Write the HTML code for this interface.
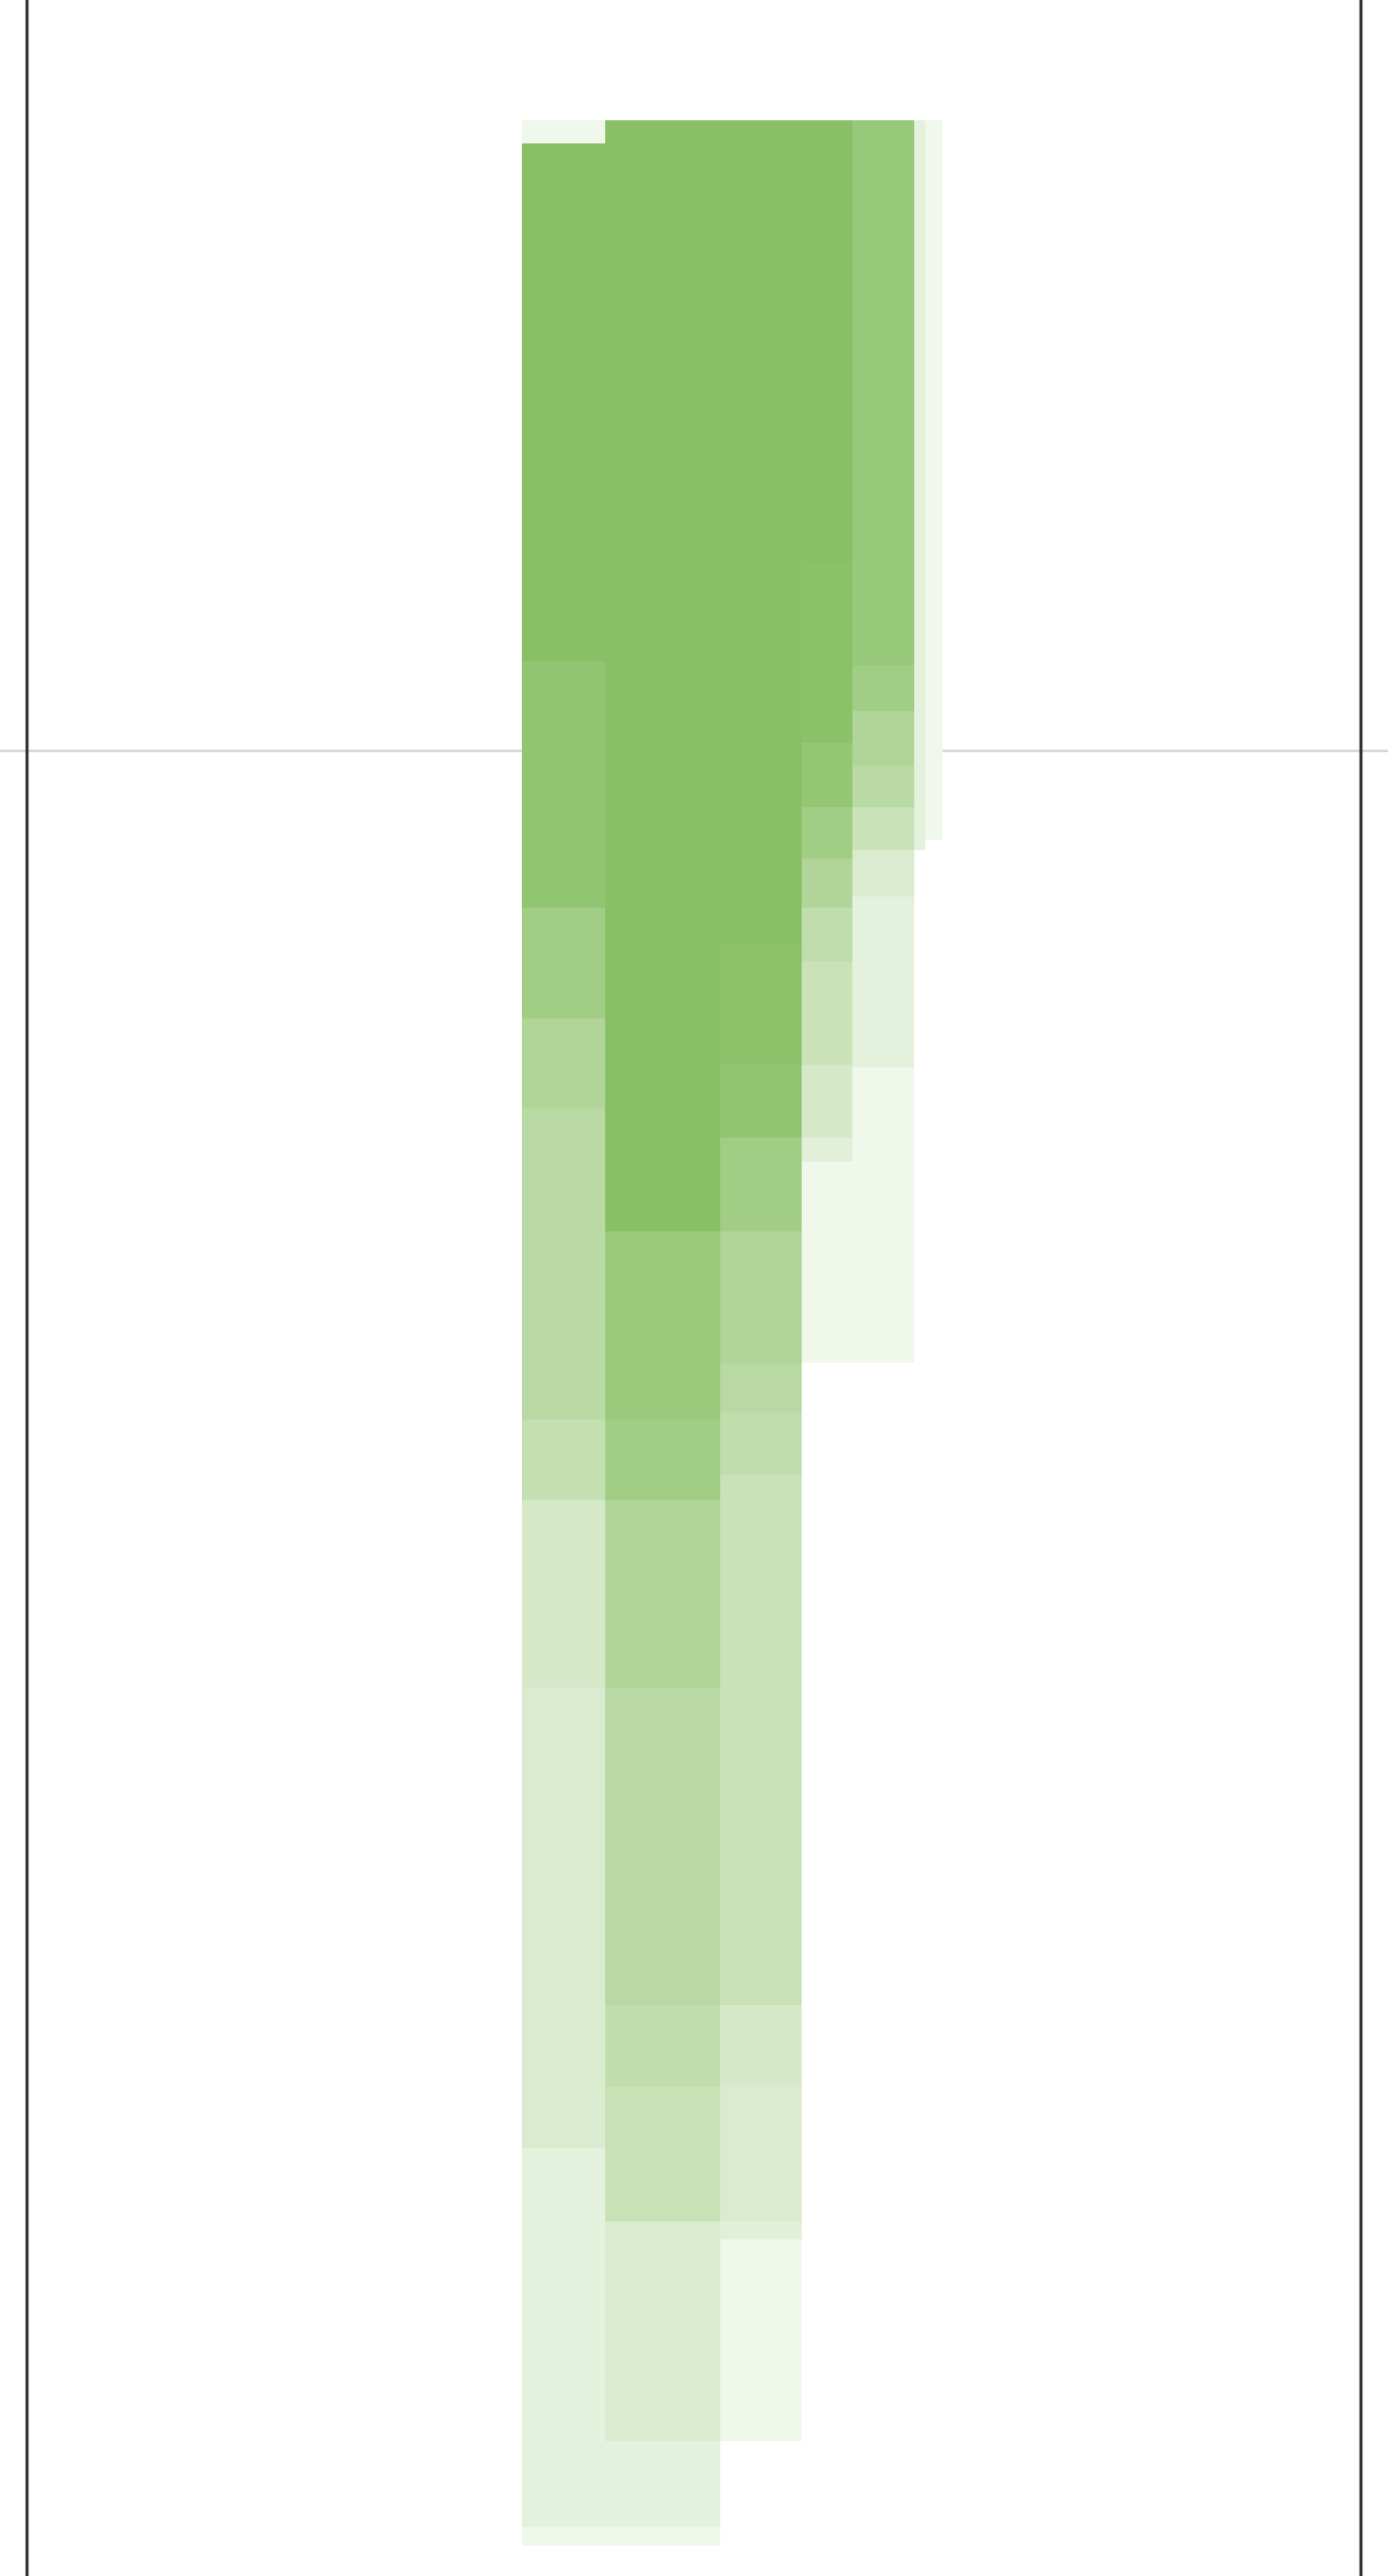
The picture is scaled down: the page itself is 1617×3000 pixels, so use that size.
<!DOCTYPE html>
<html><head><meta charset="utf-8"><style>
html,body{margin:0;padding:0;background:#fff;width:1617px;height:3000px;overflow:hidden;font-family:"Liberation Sans",sans-serif}
svg{display:block}
</style></head><body>
<svg id="chart" width="1617" height="3000" viewBox="0 0 1617 3000">
<rect x="0" y="0" width="1617" height="3000" fill="#fff"/>
<line x1="0" y1="874.5" x2="1617" y2="874.5" stroke="#d9d9d9" stroke-width="3"/>
<g id="marks"></g>
<line x1="31.5" y1="0" x2="31.5" y2="3000" stroke="#333" stroke-width="3.5"/>
<line x1="1585.5" y1="0" x2="1585.5" y2="3000" stroke="#333" stroke-width="3.5"/>
</svg>
<script>
// column edges (value units)
const colStart = [608, 705, 839, 934, 993, 1065, 1078];
const colEnd   = [705, 839, 934, 993, 1065, 1078, 1098];
// segment boundaries per column (value units, top to bottom)
const colBreaks = [
  [140,167,770,1057,1186,1291,1653,1747,1966,2502,2943,2965],
  [140,1434,1653,1747,1966,2335,2430,2587,2843,2943,2965],
  [140,1098,1240,1325,1434,1588,1645,1718,2335,2430,2587,2608,2843],
  [140,655,865,940,1000,1057,1120,1240,1325,1353,1587],
  [140,775,828,892,940,990,1044,1243,1587],
  [140,990],
  [140,978]
];
// density level per segment (0..1)
const colDensity = [
  [0.13,1,0.92,0.79,0.66,0.59,0.5,0.36,0.31,0.23,0.13],
  [1,0.85,0.79,0.66,0.6,0.53,0.47,0.31,0.23,0.13],
  [1,0.97,0.92,0.79,0.66,0.6,0.53,0.46,0.36,0.31,0.25,0.13],
  [1,0.98,0.9,0.79,0.66,0.53,0.46,0.36,0.25,0.13],
  [0.87,0.79,0.66,0.59,0.46,0.31,0.23,0.13],
  [0.23],
  [0.13]
];
const W=1617, H=3000;
function xScale(v){ return v/1617*W; }
function yScale(v){ return v/3000*H; }
function color(t){
  const r=Math.round(255-(255-137)*t), g=Math.round(255-(255-192)*t), b=Math.round(255-(255-101)*t);
  return `rgb(${r},${g},${b})`;
}
const g=document.getElementById('marks');
const NS='http://www.w3.org/2000/svg';
for(let c=0;c<colStart.length;c++){
  const br=colBreaks[c], d=colDensity[c];
  for(let s=0;s<d.length;s++){
    const r=document.createElementNS(NS,'rect');
    r.setAttribute('x',xScale(colStart[c]));
    r.setAttribute('width',xScale(colEnd[c])-xScale(colStart[c]));
    r.setAttribute('y',yScale(br[s]));
    r.setAttribute('height',yScale(br[s+1])-yScale(br[s]));
    r.setAttribute('fill',color(d[s]));
    
    
    g.appendChild(r);
  }
}
</script>
</body></html>
